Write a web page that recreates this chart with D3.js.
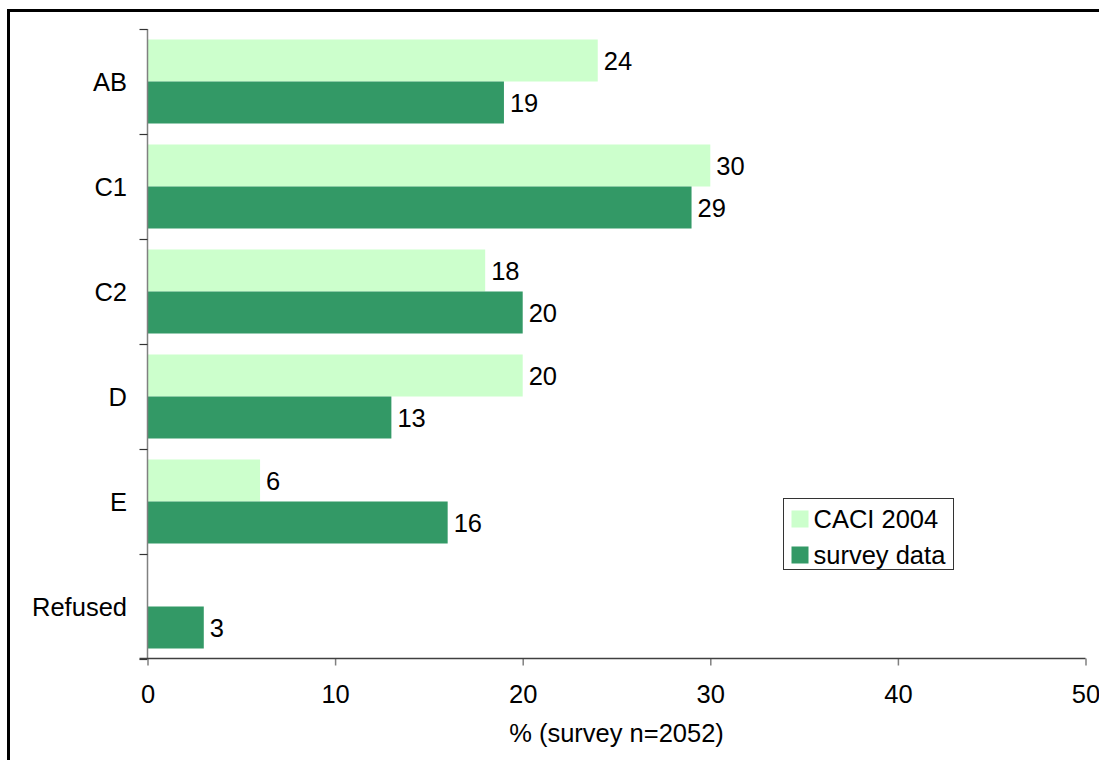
<!DOCTYPE html>
<html>
<head>
<meta charset="utf-8">
<script src="https://cdn.jsdelivr.net/npm/d3@7"></script>
<style>
  html, body { margin: 0; padding: 0; background: #fff; }
  svg { display: block; }
  text { font-family: Arial, "Liberation Sans", sans-serif; fill: #000; }
</style>
</head>
<body>
<svg id="chart" width="1099" height="760"></svg>
<script>
// Social grade distribution: CACI 2004 profile vs. survey respondents
const categories = ["AB", "C1", "C2", "D", "E", "Refused"];
const caciValues = [24, 30, 18, 20, 6, null];
const surveyValues = [19, 29, 20, 13, 16, 3];
const seriesNames = ["CACI 2004", "survey data"];
const seriesColors = ["#CCFFCC", "#339966"];
const xTicks = [0, 10, 20, 30, 40, 50];
const xTitle = "% (survey n=2052)";

const svg = d3.select("#chart");
const fontSize = 25.5;

// outer frame
svg.append("rect")
  .attr("x", 8.5).attr("y", 10.5)
  .attr("width", 1200).attr("height", 900)
  .attr("fill", "none").attr("stroke", "#000").attr("stroke-width", 3);

const plot = { left: 147.5, right: 1085.5, top: 29, bottom: 659 };

const x = d3.scaleLinear().domain([0, 50]).range([plot.left, plot.right]);
const y = d3.scaleBand().domain(categories).range([plot.top, plot.bottom]).paddingInner(0).paddingOuter(0);
const inner = d3.scaleBand().domain([0, 1]).range([0, y.bandwidth()]).paddingInner(0).paddingOuter(0.25);

const series = [caciValues, surveyValues];

// bars with value labels
series.forEach((vals, si) => {
  const rows = categories.map((c, i) => ({ c, v: vals[i] })).filter(d => d.v != null);
  svg.append("g").selectAll("rect").data(rows).join("rect")
    .attr("x", x(0))
    .attr("y", d => y(d.c) + inner(si))
    .attr("width", d => x(d.v) - x(0))
    .attr("height", inner.bandwidth())
    .attr("fill", seriesColors[si]);

  svg.append("g").selectAll("text").data(rows).join("text")
    .attr("x", d => x(d.v) + 6)
    .attr("y", d => y(d.c) + inner(si) + inner.bandwidth() / 2)
    .attr("dy", "0.36em")
    .attr("font-size", fontSize)
    .text(d => d.v);
});

// y axis: line, ticks on band boundaries, labels centered in bands
svg.append("line")
  .attr("x1", plot.left).attr("x2", plot.left)
  .attr("y1", plot.top).attr("y2", plot.bottom)
  .attr("stroke", "#808080").attr("stroke-width", 1.5);

const boundaries = categories.map(c => y(c)).concat([plot.bottom]);
svg.append("g").selectAll("line").data(boundaries).join("line")
  .attr("x1", plot.left - 8).attr("x2", plot.left)
  .attr("y1", d => d + 0.5).attr("y2", d => d + 0.5)
  .attr("stroke", "#333").attr("stroke-width", 1.2);

svg.append("g").selectAll("text").data(categories).join("text")
  .attr("x", 127)
  .attr("y", d => y(d) + y.bandwidth() / 2)
  .attr("dy", "0.36em")
  .attr("text-anchor", "end")
  .attr("font-size", fontSize)
  .text(d => d);

// x axis
const xAxis = d3.axisBottom(x).tickValues(xTicks).tickSize(7).tickPadding(19).tickSizeOuter(0);
const gx = svg.append("g")
  .attr("transform", `translate(0,${plot.bottom - 0.5})`)
  .call(xAxis);
gx.select(".domain").remove();
gx.selectAll(".tick line").attr("stroke", "#808080").attr("stroke-width", 1.5);
gx.selectAll(".tick text").attr("font-size", fontSize).attr("font-family", "Arial, 'Liberation Sans', sans-serif").attr("fill", "#000");
svg.append("line")
  .attr("x1", plot.left - 8).attr("x2", plot.right)
  .attr("y1", plot.bottom - 0.5).attr("y2", plot.bottom - 0.5)
  .attr("stroke", "#404040").attr("stroke-width", 1.5);

svg.append("text")
  .attr("x", (plot.left + plot.right) / 2)
  .attr("y", 742)
  .attr("text-anchor", "middle")
  .attr("font-size", fontSize)
  .text(xTitle);

// legend
const legend = svg.append("g").attr("transform", "translate(783.5,498.5)");
legend.append("rect")
  .attr("width", 170).attr("height", 71)
  .attr("fill", "#fff").attr("stroke", "#333").attr("stroke-width", 1);
seriesNames.forEach((name, i) => {
  const row = legend.append("g").attr("transform", `translate(8,${12 + i * 36})`);
  row.append("rect").attr("width", 17).attr("height", 17).attr("fill", seriesColors[i]);
  row.append("text")
    .attr("x", 22).attr("y", 8.5).attr("dy", "0.36em")
    .attr("font-size", fontSize)
    .text(name);
});
</script>
</body>
</html>
